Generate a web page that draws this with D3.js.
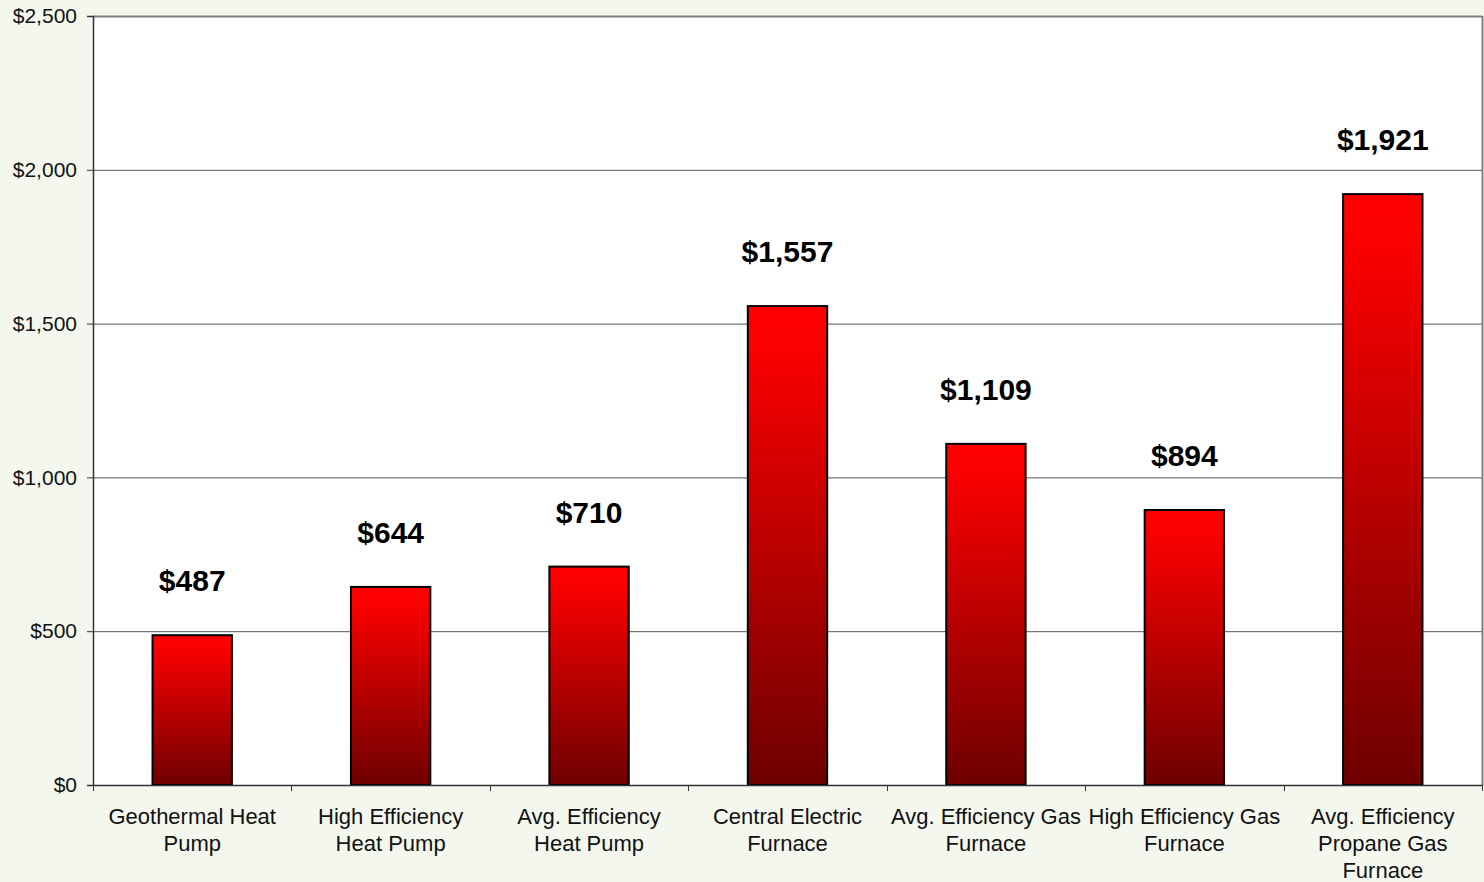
<!DOCTYPE html>
<html>
<head>
<meta charset="utf-8">
<script src="https://cdn.jsdelivr.net/npm/d3@7"></script>
<style>
  html, body { margin: 0; padding: 0; background: #f4f7ee; }
  svg { display: block; font-family: Arial, "Liberation Sans", sans-serif; }
</style>
</head>
<body>
<div id="chart"></div>
<script>
// chart data
const categories = [
  ["Geothermal Heat", "Pump"],
  ["High Efficiency", "Heat Pump"],
  ["Avg. Efficiency", "Heat Pump"],
  ["Central Electric", "Furnace"],
  ["Avg. Efficiency Gas", "Furnace"],
  ["High Efficiency Gas", "Furnace"],
  ["Avg. Efficiency", "Propane Gas", "Furnace"]
];
const costs = [487, 644, 710, 1557, 1109, 894, 1921];
const yTicks = [0, 500, 1000, 1500, 2000, 2500];

const width = 1484, height = 882;
const margin = { top: 16, right: 2, bottom: 97, left: 93 };

const svg = d3.select('#chart').append('svg')
  .attr('width', width)
  .attr('height', height);

// gradient for the bars
const grad = svg.append('defs').append('linearGradient')
  .attr('id', 'barGrad')
  .attr('x1', 0).attr('y1', 0).attr('x2', 0).attr('y2', 1);
grad.append('stop').attr('offset', '0%').attr('stop-color', '#ff0000');
grad.append('stop').attr('offset', '8%').attr('stop-color', '#fc0000');
grad.append('stop').attr('offset', '100%').attr('stop-color', '#6e0000');

const x = d3.scaleBand()
  .domain(d3.range(categories.length))
  .range([margin.left, width - margin.right])
  .paddingInner(0.6)
  .paddingOuter(0.3);

const y = d3.scaleLinear()
  .domain([0, 2500])
  .range([height - margin.bottom, margin.top]);

// plot background
svg.append('rect')
  .attr('x', margin.left)
  .attr('y', margin.top)
  .attr('width', width - margin.right - margin.left)
  .attr('height', y(0) - margin.top)
  .attr('fill', '#fff');

// gridlines
svg.append('g')
  .selectAll('line')
  .data(yTicks.slice(1, -1))
  .join('line')
  .attr('x1', margin.left)
  .attr('x2', width - margin.right)
  .attr('y1', d => y(d) + 0.5)
  .attr('y2', d => y(d) + 0.5)
  .attr('stroke', '#555')
  .attr('stroke-width', 1);

// frame top and right
svg.append('line')
  .attr('x1', margin.left).attr('x2', width - margin.right)
  .attr('y1', y(2500) + 0.5).attr('y2', y(2500) + 0.5)
  .attr('stroke', '#808080').attr('stroke-width', 2);
svg.append('line')
  .attr('x1', width - margin.right + 0.5).attr('x2', width - margin.right + 0.5)
  .attr('y1', margin.top).attr('y2', y(0))
  .attr('stroke', '#808080').attr('stroke-width', 2);

// bars
svg.append('g')
  .selectAll('rect')
  .data(costs)
  .join('rect')
  .attr('x', (d, i) => x(i))
  .attr('y', d => y(d))
  .attr('width', x.bandwidth())
  .attr('height', d => y(0) - y(d))
  .attr('fill', 'url(#barGrad)')
  .attr('stroke', '#000')
  .attr('stroke-width', 2);

// value labels
svg.append('g')
  .selectAll('text')
  .data(costs)
  .join('text')
  .attr('x', (d, i) => x(i) + x.bandwidth() / 2)
  .attr('y', d => y(d) - 44)
  .attr('text-anchor', 'middle')
  .style('font-size', '30px')
  .style('font-weight', 'bold')
  .style('fill', '#000')
  .text(d => '$' + d3.format(',')(d));

// y axis
const yAxis = svg.append('g')
  .attr('transform', `translate(${margin.left},0)`)
  .call(d3.axisLeft(y).tickValues(yTicks).tickSize(6).tickPadding(10)
    .tickFormat(d => '$' + d3.format(',')(d)));
yAxis.select('.domain').attr('stroke', '#333').attr('stroke-width', 1.5);
yAxis.selectAll('.tick line').attr('stroke', '#333');
yAxis.selectAll('.tick text')
  .style('font-size', '21px')
  .style('font-family', 'Arial, "Liberation Sans", sans-serif')
  .attr('fill', '#111');

// x axis: ticks at band edges
const edges = d3.range(categories.length + 1)
  .map(i => margin.left + i * (width - margin.right - margin.left) / categories.length);
const xAxis = svg.append('g');
xAxis.append('line')
  .attr('x1', margin.left).attr('x2', width - margin.right)
  .attr('y1', y(0) + 0.5).attr('y2', y(0) + 0.5)
  .attr('stroke', '#333').attr('stroke-width', 1.5);
xAxis.selectAll('line.tk')
  .data(edges)
  .join('line')
  .attr('class', 'tk')
  .attr('x1', d => Math.round(d) + 0.5).attr('x2', d => Math.round(d) + 0.5)
  .attr('y1', y(0)).attr('y2', y(0) + 6)
  .attr('stroke', '#333');

const xl = svg.append('g')
  .selectAll('text')
  .data(categories)
  .join('text')
  .attr('text-anchor', 'middle')
  .attr('x', (d, i) => (edges[i] + edges[i + 1]) / 2)
  .attr('y', y(0) + 39)
  .style('font-size', '22px')
  .style('fill', '#111');
xl.selectAll('tspan')
  .data(d => d)
  .join('tspan')
  .attr('x', function() { return this.parentNode.getAttribute('x'); })
  .attr('dy', (d, i) => i === 0 ? 0 : 27)
  .text(d => d);
</script>
</body>
</html>
